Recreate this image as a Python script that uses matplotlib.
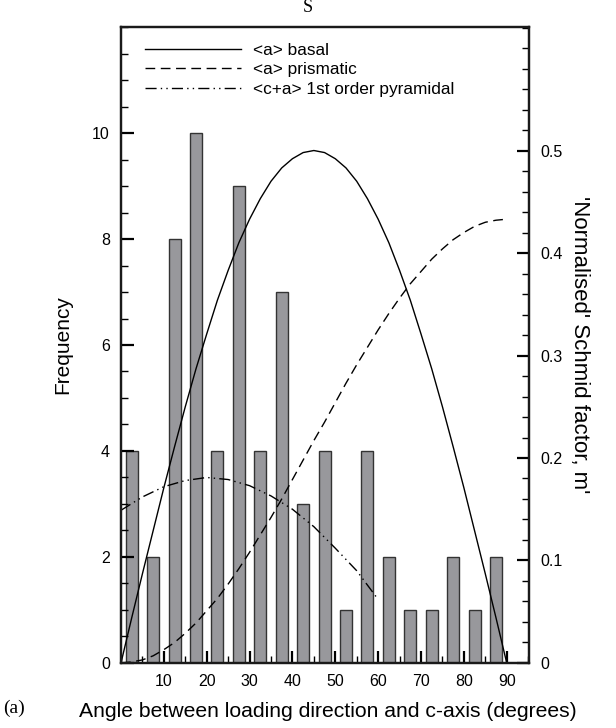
import matplotlib
matplotlib.use("Agg")
import matplotlib.pyplot as plt
from matplotlib.ticker import MultipleLocator

plt.rcParams['font.family'] = ['Liberation Sans', 'DejaVu Sans']

# histogram of angles (bin centres, counts)
angle_bins = [2.5, 7.5, 12.5, 17.5, 22.5, 27.5, 32.5, 37.5, 42.5,
              47.5, 52.5, 57.5, 62.5, 67.5, 72.5, 77.5, 82.5, 87.5]
counts = [4, 2, 8, 10, 4, 9, 4, 7, 3, 4, 1, 4, 2, 1, 1, 2, 1, 2]

# Schmid factor curves
angle = [0, 2.5, 5, 7.5, 10, 12.5, 15, 17.5, 20, 22.5, 25, 27.5, 30, 32.5, 35, 37.5,
         40, 42.5, 45, 47.5, 50, 52.5, 55, 57.5, 60, 62.5, 65, 67.5, 70, 72.5, 75,
         77.5, 80, 82.5, 85, 87.5, 90]
basal = [0.0, 0.044, 0.087, 0.129, 0.171, 0.211, 0.250, 0.287, 0.321, 0.354, 0.383,
         0.410, 0.433, 0.453, 0.470, 0.483, 0.492, 0.498, 0.500, 0.498, 0.492, 0.483,
         0.470, 0.453, 0.433, 0.410, 0.383, 0.354, 0.321, 0.287, 0.250, 0.211, 0.171,
         0.129, 0.087, 0.044, 0.0]
prismatic = [0.0, 0.001, 0.003, 0.007, 0.013, 0.020, 0.029, 0.039, 0.051, 0.063, 0.077,
             0.092, 0.108, 0.125, 0.142, 0.160, 0.179, 0.198, 0.217, 0.235, 0.254, 0.273,
             0.291, 0.308, 0.325, 0.341, 0.356, 0.370, 0.382, 0.394, 0.404, 0.413, 0.420,
             0.426, 0.430, 0.432, 0.433]
pyr_angle = [0, 5, 10, 15, 20, 25, 30, 35, 40, 45, 50, 55, 60]
pyramidal = [0.149, 0.162, 0.172, 0.178, 0.181, 0.179, 0.173, 0.163, 0.150,
             0.133, 0.112, 0.090, 0.062]

fig = plt.figure(figsize=(6.16, 7.28), dpi=100)
ax = fig.add_axes([0.1964, 0.0893, 0.6624, 0.8736])
ax2 = ax.twinx()

ax.bar(angle_bins, counts, width=2.8, color='#98989c', edgecolor='#333333', linewidth=1.0)
ax.set_xlim(0, 95.2)
ax.set_ylim(0, 12)
ax.set_xticks([10, 20, 30, 40, 50, 60, 70, 80, 90])
ax.xaxis.set_minor_locator(MultipleLocator(5))
ax.set_yticks([0, 2, 4, 6, 8, 10])
ax.yaxis.set_minor_locator(MultipleLocator(0.5))
ax.set_ylabel('Frequency', fontsize=15, labelpad=14)
ax.set_xlabel('Angle between loading direction and c-axis (degrees)', fontsize=15.2)
ax.xaxis.set_label_coords(0.507, -0.062)

l1, = ax2.plot(angle, basal, '-', color='black', lw=1.0)
l2, = ax2.plot(angle, prismatic, color='black', lw=1.0, linestyle=(0, (7, 4)))
l3, = ax2.plot(pyr_angle, pyramidal, color='black', lw=1.0, linestyle=(0, (8, 3, 1, 3, 1, 3)))
ax2.set_ylim(0, 0.6205)
ax2.set_yticks([0, 0.1, 0.2, 0.3, 0.4, 0.5])
ax2.set_yticklabels(['0', '0.1', '0.2', '0.3', '0.4', '0.5'])
ax2.yaxis.set_minor_locator(MultipleLocator(0.02))
ax2.set_ylabel("'Normalised' Schmid factor, m'", fontsize=16, rotation=270, labelpad=20)

for a in (ax, ax2):
    for s in a.spines.values():
        s.set_linewidth(1.6)
        s.set_color('#1a1a1a')
    a.tick_params(which='major', direction='in', length=9, width=1.6, labelsize=11.5, pad=8)
    a.tick_params(which='minor', direction='in', length=5, width=1.0)
ax.tick_params(axis='y', which='both', right=False)
ax.tick_params(axis='x', which='both', top=False, pad=8)
ax2.tick_params(axis='x', which='both', top=False, bottom=False)

ax2.legend([l1, l2, l3], ['<a> basal', '<a> prismatic', '<c+a> 1st order pyramidal'],
           loc='upper left', frameon=False, fontsize=12.4, handlelength=5.6,
           handletextpad=0.7, labelspacing=0.28, bbox_to_anchor=(0.02, 1.0))

fig.text(0.5, 0.99, 'S', family='Liberation Serif', fontsize=13, ha='center', va='center')
fig.text(0.005, 0.027, '(a)', family='Liberation Serif', fontsize=14, ha='left', va='center')

fig.savefig('out.png', dpi=100)
